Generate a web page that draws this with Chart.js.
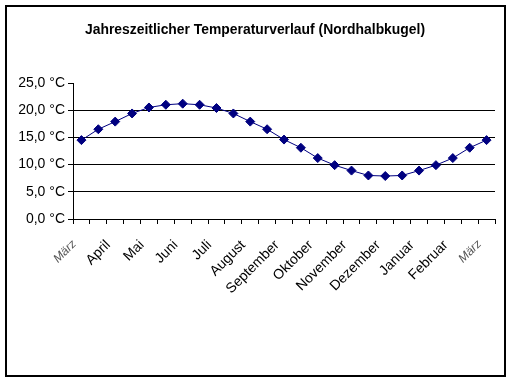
<!DOCTYPE html>
<html>
<head>
<meta charset="utf-8">
<script src="https://cdn.jsdelivr.net/npm/chart.js@4/dist/chart.umd.min.js"></script>
<style>
html,body{margin:0;padding:0;background:#fff;}
#wrap{width:512px;height:384px;position:relative;}
</style>
</head>
<body>
<div id="wrap"><canvas id="c" width="512" height="384"></canvas></div>
<script>
const chartTitle = 'Jahreszeitlicher Temperaturverlauf (Nordhalbkugel)';
const categories = ['März','','April','','Mai','','Juni','','Juli','','August','','September','','Oktober','','November','','Dezember','','Januar','','Februar','','März'];
const temperatures = [14.5,16.5,17.9,19.4,20.5,21.0,21.2,21.0,20.4,19.4,17.9,16.5,14.6,13.1,11.2,9.9,8.9,8.0,7.9,8.0,8.9,9.9,11.2,13.1,14.5];
const yTickValues = [0,5,10,15,20,25];
const yTickLabels = ['0,0 °C','5,0 °C','10,0 °C','15,0 °C','20,0 °C','25,0 °C'];

const frame = {
  id: 'frame',
  beforeDraw(chart){
    const ctx = chart.ctx;
    ctx.save();
    ctx.fillStyle = '#fff';
    ctx.fillRect(0,0,chart.width,chart.height);
    ctx.strokeStyle = '#000';
    ctx.lineWidth = 2;
    ctx.strokeRect(6,6,499,370);
    ctx.restore();
  },
  afterDraw(chart){
    const ctx = chart.ctx;
    ctx.save();
    ctx.fillStyle = '#000';
    ctx.font = 'bold 14px "Liberation Sans", Arial, sans-serif';
    ctx.textAlign = 'center';
    ctx.textBaseline = 'middle';
    const w = ctx.measureText(chartTitle).width;
    const target = 340;
    ctx.translate(255, 30);
    ctx.scale(target / w, 1);
    ctx.fillText(chartTitle, 0, 0);
    ctx.restore();
  }
};

new Chart(document.getElementById('c'), {
  type: 'line',
  data: {
    labels: categories,
    datasets: [{
      data: temperatures,
      borderColor: '#000080',
      backgroundColor: '#000080',
      borderWidth: 1,
      pointStyle: 'rectRot',
      pointRadius: 4.5,
      pointBorderWidth: 1,
      pointBackgroundColor: '#000080',
      pointBorderColor: '#000080',
      tension: 0,
      fill: false
    }]
  },
  options: {
    responsive: false,
    animation: false,
    devicePixelRatio: 1,
    layout: { padding: { top: 83, left: 0, right: 17, bottom: 0 } },
    plugins: { legend: { display: false }, title: { display: false }, tooltip: { enabled: false } },
    scales: {
      x: {
        type: 'category',
        offset: true,
        grid: { display: true, drawOnChartArea: false, offset: true, color: '#000', tickColor: '#000', tickLength: 5, lineWidth: 1 },
        border: { display: true, color: '#000', width: 1 },
        ticks: {
          autoSkip: false,
          minRotation: 45,
          maxRotation: 45,
          padding: 13,
          labelOffset: -7,
          color: (c) => (c.index === 0 || c.index === categories.length - 1) ? '#555' : '#000',
          font: (c) => (c.index === 0 || c.index === categories.length - 1)
            ? { family: '"Liberation Sans", Arial, sans-serif', size: 12, style: 'italic' }
            : { family: '"Liberation Sans", Arial, sans-serif', size: 14 }
        },
        afterFit(scale){ scale.height = 384 - 219; }
      },
      y: {
        min: 0,
        max: 25,
        afterBuildTicks(scale){ scale.ticks = yTickValues.map(v => ({ value: v })); },
        grid: {
          color: (c) => (c.tick && c.tick.value === 25) ? 'rgba(0,0,0,0)' : '#000',
          tickColor: '#000',
          tickLength: 5,
          lineWidth: 1
        },
        border: { display: true, color: '#000', width: 1 },
        ticks: {
          padding: 3,
          color: '#000',
          font: { family: '"Liberation Sans", Arial, sans-serif', size: 14 },
          callback: (v) => yTickLabels[yTickValues.indexOf(v)]
        },
        afterFit(scale){ scale.width = 73; }
      }
    }
  },
  plugins: [frame]
});
</script>
</body>
</html>
